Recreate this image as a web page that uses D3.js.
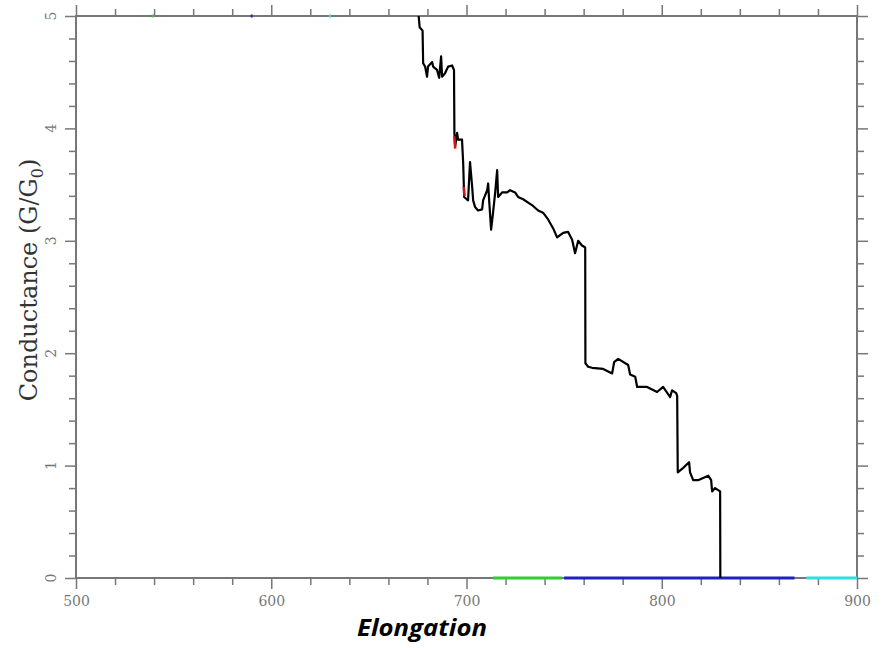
<!DOCTYPE html>
<meta charset="utf-8">
<style>
body { margin: 0; background: #fff; }
.axis path, .axis line { stroke: #777; }
.axis text { font-family: "DejaVu Serif", serif; fill: #777; font-size: 14px; }
</style>
<svg width="891" height="648"></svg>
<script src="https://d3js.org/d3.v7.min.js"></script>
<script>

// main trace (elongation, G/G0)
var traceX = [675.5, 676, 677.5, 677.8, 678.8, 679.8, 680.3, 682.4, 682.9, 684.9, 686.0, 687.0, 687.5, 689.0, 690.6, 692.6, 693.6,
  693.8, 694.2, 695.2, 695.7, 697.7, 698.3, 698.8, 700.8, 701.8, 702.9, 703.4, 704.4, 705.9, 708.0, 708.5, 710.6, 711.1, 711.6,
  712.6, 713.6, 714.7, 715.7, 716.2, 718.2, 720.8, 722.3, 724.9, 726.4, 729.0, 731.6, 734.1, 736.7, 739.2, 741.8, 744.4, 746.4,
  749.5, 752.0, 754.1, 755.6, 757.2, 759.0, 760.8, 760.9, 762.3, 764.3, 770.0, 774.6, 775.6, 777.7, 782.8, 783.8, 786.4, 787.4,
  792.5, 797.6, 800.7, 804.3, 805.3, 807.4, 807.9, 808.2, 811.0, 814.0, 814.5, 816.1, 818.6, 823.8, 825.3, 825.8, 827.3, 829.9, 830.0];
var traceG = [5.0, 4.9, 4.87, 4.58, 4.55, 4.46, 4.55, 4.59, 4.55, 4.52, 4.45, 4.64, 4.46, 4.49, 4.55, 4.56, 4.52,
  3.96, 3.84, 3.96, 3.90, 3.90, 3.69, 3.39, 3.36, 3.70, 3.48, 3.36, 3.30, 3.27, 3.28, 3.36, 3.45, 3.51, 3.36,
  3.10, 3.25, 3.43, 3.63, 3.39, 3.43, 3.43, 3.45, 3.43, 3.39, 3.37, 3.34, 3.31, 3.27, 3.25, 3.19, 3.11, 3.03,
  3.07, 3.08, 3.01, 2.89, 3.00, 2.96, 2.94, 1.91, 1.88, 1.87, 1.86, 1.82, 1.92, 1.95, 1.895, 1.81, 1.79, 1.70,
  1.70, 1.655, 1.70, 1.61, 1.67, 1.645, 1.62, 0.94, 0.98, 1.03, 0.94, 0.87, 0.87, 0.91, 0.87, 0.77, 0.80, 0.77, 0.0];

// other traces, only visible as short pieces
var redX = [[693.8, 694.2], [698.6, 699.0]];
var redG = [[3.93, 3.82], [3.48, 3.40]];
var greenX = [[713.5, 749], [539.0, 539.8]];
var greenG = [[0, 0], [5, 5]];
var blueX = [[750, 868], [589.5, 590.5]];
var blueG = [[0, 0], [5, 5]];
var cyanX = [[874, 900], [629.5, 630.5]];
var cyanG = [[0, 0], [5, 5]];

var xMajor = [500, 600, 700, 800, 900];
var yMajor = [0, 1, 2, 3, 4, 5];

var svg = d3.select("svg"),
    mLeft = 76, mRight = 857, mTop = 16, mBottom = 578;

var x = d3.scaleLinear().domain([500, 900]).range([mLeft, mRight]);
var y = d3.scaleLinear().domain([0, 5]).range([mBottom, mTop]);

var xMinor = d3.range(500, 901, 20).filter(function(v) { return xMajor.indexOf(v) < 0; });
var yMinor = d3.range(0, 5.01, 0.2).map(function(v) { return +v.toFixed(1); })
    .filter(function(v) { return yMajor.indexOf(v) < 0; });

function styleAxis(g) {
  g.attr("class", "axis");
  g.select(".domain").remove();
  g.selectAll("line").attr("stroke-width", 1.5);
}

// x axes
svg.append("g").attr("transform", "translate(0," + mBottom + ")")
    .call(d3.axisBottom(x).tickValues(xMajor).tickSize(11).tickPadding(7).tickFormat(d3.format("d")))
    .call(styleAxis);
svg.append("g").attr("transform", "translate(0," + mBottom + ")")
    .call(d3.axisBottom(x).tickValues(xMinor).tickSize(7).tickFormat(""))
    .call(styleAxis);
svg.append("g").attr("transform", "translate(0," + mTop + ")")
    .call(d3.axisTop(x).tickValues(xMajor).tickSize(11).tickFormat(""))
    .call(styleAxis);
svg.append("g").attr("transform", "translate(0," + mTop + ")")
    .call(d3.axisTop(x).tickValues(xMinor).tickSize(7).tickFormat(""))
    .call(styleAxis);

// y axes
var yl = svg.append("g").attr("transform", "translate(" + mLeft + ",0)")
    .call(d3.axisLeft(y).tickValues(yMajor).tickSize(11).tickFormat(""))
    .call(styleAxis);
svg.append("g").attr("transform", "translate(" + mLeft + ",0)")
    .call(d3.axisLeft(y).tickValues(yMinor).tickSize(7).tickFormat(""))
    .call(styleAxis);
svg.append("g").attr("transform", "translate(" + mRight + ",0)")
    .call(d3.axisRight(y).tickValues(yMajor).tickSize(11).tickFormat(""))
    .call(styleAxis);
svg.append("g").attr("transform", "translate(" + mRight + ",0)")
    .call(d3.axisRight(y).tickValues(yMinor).tickSize(7).tickFormat(""))
    .call(styleAxis);

// rotated y tick labels
yl.selectAll(".ylab").data(yMajor).enter().append("text")
    .attr("class", "ylab")
    .attr("transform", function(d) { return "translate(-25," + y(d) + ") rotate(-90)"; })
    .attr("text-anchor", "middle")
    .attr("dy", "0.35em")
    .text(function(d) { return d; });

// frame
svg.append("rect")
    .attr("x", mLeft).attr("y", mTop)
    .attr("width", mRight - mLeft).attr("height", mBottom - mTop)
    .attr("fill", "none").attr("stroke", "#777").attr("stroke-width", 2);

svg.append("clipPath").attr("id", "clip").append("rect")
    .attr("x", mLeft).attr("y", mTop - 2).attr("width", mRight - mLeft).attr("height", mBottom - mTop + 4);

var plot = svg.append("g").attr("clip-path", "url(#clip)");

var line = d3.line()
    .x(function(d) { return x(d[0]); })
    .y(function(d) { return y(d[1]); });

function pieces(xs, gs, color, w) {
  xs.forEach(function(xx, i) {
    plot.append("path")
        .datum(d3.zip(xx, gs[i]))
        .attr("fill", "none")
        .attr("stroke", color)
        .attr("stroke-width", w)
        .attr("d", line);
  });
}

pieces(greenX, greenG, "#33cc33", 3);
pieces(blueX, blueG, "#2222bb", 3);
pieces(cyanX, cyanG, "#33dddd", 3);

plot.append("path")
    .datum(d3.zip(traceX, traceG))
    .attr("fill", "none")
    .attr("stroke", "#000")
    .attr("stroke-width", 2.2)
    .attr("stroke-linejoin", "round")
    .attr("d", line);

pieces(redX, redG, "#e01010", 2.5);

// axis titles
var yt = svg.append("text")
    .attr("transform", "translate(37,280) rotate(-90)")
    .attr("text-anchor", "middle")
    .style("font-family", "'DejaVu Serif', serif")
    .style("font-size", "24px")
    .style("fill", "#333");
yt.append("tspan").text("Conductance (G/G");
yt.append("tspan").attr("dy", "6").style("font-size", "16px").text("0");
yt.append("tspan").attr("dy", "-6").text(")");

svg.append("text")
    .attr("x", 422).attr("y", 636)
    .attr("text-anchor", "middle")
    .attr("textLength", 130)
    .attr("lengthAdjust", "spacingAndGlyphs")
    .style("font-family", "'Open Sans', sans-serif")
    .style("font-weight", "bold")
    .style("font-style", "italic")
    .style("font-size", "24px")
    .style("fill", "#000")
    .text("Elongation");

</script>
